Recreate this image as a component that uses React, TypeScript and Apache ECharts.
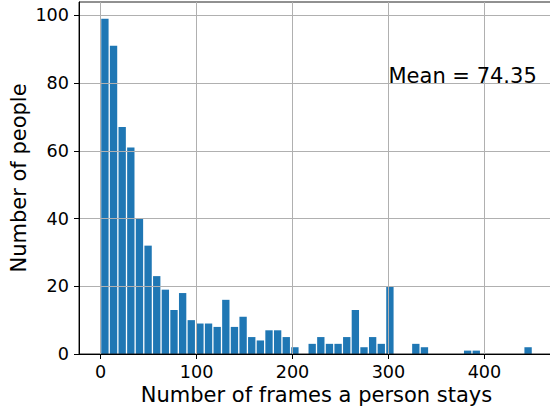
import React, { useEffect, useRef } from "react";
import * as echarts from "echarts";

// Histogram of "frames a person stays": bins of width 9 starting at 0
const binStart = 0;
const binWidth = 9;
const counts = [
  99, 91, 67, 61, 40, 32, 23, 19, 13, 18,
  10, 9, 9, 8, 16, 8, 11, 5, 4, 7,
  7, 5, 2, 0, 3, 5, 3, 3, 5, 13,
  2, 5, 3, 20, 0, 0, 3, 2, 0, 0,
  0, 0, 1, 1, 0, 0, 0, 0, 0, 2,
];
const xTicks = [0, 100, 200, 300, 400];
const yTicks = [0, 20, 40, 60, 80, 100];
const meanText = "Mean = 74.35";
const meanAt = [300, 80];

const FONT = "DejaVu Sans";

export default function App() {
  const ref = useRef<HTMLDivElement>(null);
  useEffect(() => {
    const chart = echarts.init(ref.current!, null, { renderer: "svg" });
    const rwidth = 0.85;
    const bins = counts.map((c, i) => [
      binStart + i * binWidth,
      binStart + (i + 1) * binWidth,
      c,
    ]);
    const fmt = (ticks: number[]) => (v: number) =>
      ticks.indexOf(Math.round(v * 1000) / 1000) >= 0 ? String(v) : "";
    chart.setOption({
      animation: false,
      grid: {
        left: 79,
        top: 2,
        width: 475,
        height: 352,
        containLabel: false,
        outerBoundsMode: "none",
        show: true,
        borderColor: "#222",
        borderWidth: 1,
        backgroundColor: "transparent",
      },
      xAxis: {
        type: "value",
        min: -22.5,
        max: 472.5,
        axisLine: { show: true, onZero: false, lineStyle: { color: "#000", width: 1 } },
        axisTick: {
          show: true,
          inside: false,
          length: 5,
          customValues: xTicks,
          lineStyle: { color: "#000", width: 1 },
        },
        axisLabel: {
          customValues: xTicks,
          formatter: fmt(xTicks),
          color: "#000",
          fontSize: 17.6,
          fontFamily: FONT,
          margin: 9,
        },
        splitLine: { show: true, lineStyle: { color: "#b0b0b0", width: 1 } },
        name: "Number of frames a person stays",
        nameLocation: "middle",
        nameGap: 30,
        nameMoveOverlap: false,
        nameTextStyle: { color: "#000", fontSize: 21, fontFamily: FONT },
      },
      yAxis: {
        type: "value",
        min: 0,
        max: 103.95,
        axisLine: { show: true, onZero: false, lineStyle: { color: "#000", width: 1 } },
        axisTick: {
          show: true,
          inside: false,
          length: 5,
          customValues: yTicks,
          lineStyle: { color: "#000", width: 1 },
        },
        axisLabel: {
          customValues: yTicks,
          formatter: fmt(yTicks),
          color: "#000",
          fontSize: 17.6,
          fontFamily: FONT,
          margin: 10,
        },
        splitLine: { show: true, lineStyle: { color: "#b0b0b0", width: 1 } },
        name: "Number of people",
        nameLocation: "middle",
        nameRotate: 90,
        nameGap: 50,
        nameMoveOverlap: false,
        nameTextStyle: { color: "#000", fontSize: 21, fontFamily: FONT },
      },
      series: [
        {
          type: "custom",
          z: -1,
          data: bins,
          encode: { x: [0, 1], y: 2 },
          renderItem: (params: any, api: any) => {
            const x0 = api.value(0);
            const x1 = api.value(1);
            const h = api.value(2);
            const pad = ((x1 - x0) * (1 - rwidth)) / 2;
            const p0 = api.coord([x0 + pad, h]);
            const p1 = api.coord([x1 - pad, 0]);
            return {
              type: "rect",
              shape: { x: p0[0], y: p0[1], width: p1[0] - p0[0], height: p1[1] - p0[1] },
              style: { fill: "#1f77b4" },
            };
          },
        },
        {
          type: "custom",
          data: [meanAt],
          encode: { x: 0, y: 1 },
          renderItem: (params: any, api: any) => {
            const p = api.coord([api.value(0), api.value(1)]);
            return {
              type: "text",
              x: p[0],
              y: p[1] - 7,
              style: {
                text: meanText,
                fontSize: 21,
                fontFamily: FONT,
                fill: "#000",
                align: "left",
                verticalAlign: "middle",
              },
            };
          },
        },
      ],
    });
    return () => chart.dispose();
  }, []);
  return (
    <div
      ref={ref}
      style={{ position: "absolute", left: 0, top: 0, width: 550, height: 413 }}
    />
  );
}
